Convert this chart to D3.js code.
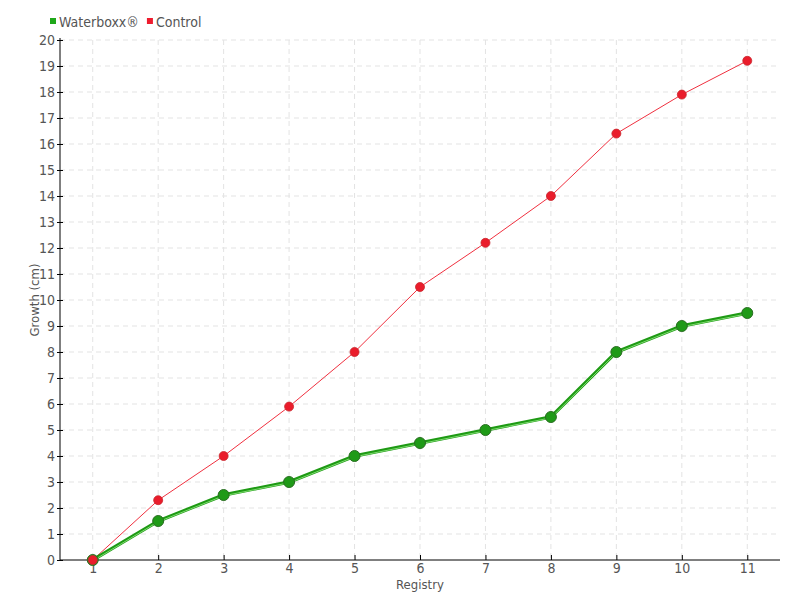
<!DOCTYPE html>
<html>
<head>
<meta charset="utf-8">
<script src="https://cdn.jsdelivr.net/npm/d3@7"></script>
<style>
  body { margin: 0; background: #fff; }
  text { font-family: "DejaVu Sans Condensed", "DejaVu Sans", sans-serif; font-stretch: condensed; fill: #555; }
  .grid line { stroke: #e3e3e3; stroke-dasharray: 5,4; }
  .axis path, .axis line { stroke: #000; }
</style>
</head>
<body>
<div class="chart"></div>
<script>
const registry = [1, 2, 3, 4, 5, 6, 7, 8, 9, 10, 11];
const waterboxx = [0, 1.5, 2.5, 3, 4, 4.5, 5, 5.5, 8, 9, 9.5];
const control = [0, 2.3, 4, 5.9, 8, 10.5, 12.2, 14, 16.4, 17.9, 19.2];
const yTicks = d3.range(0, 21);

const w = 800, h = 600;
const padL = 60, padR = 780, padT = 40, padB = 560;

var svg = d3.select(".chart").append("svg")
    .attr("width", w)
    .attr("height", h);

var xScale = d3.scalePoint().domain(registry).range([padL, padR]).padding(0.5);
var yScale = d3.scaleLinear().domain([0, 20]).range([padB, padT]);

// grid
svg.append("g").attr("class", "grid")
   .selectAll("line").data(yTicks.slice(1)).enter().append("line")
   .attr("x1", padL).attr("x2", padR)
   .attr("y1", d => yScale(d)).attr("y2", d => yScale(d));
svg.append("g").attr("class", "grid")
   .selectAll("line").data(registry).enter().append("line")
   .attr("x1", d => xScale(d)).attr("x2", d => xScale(d))
   .attr("y1", padT).attr("y2", padB);

// axes
var xAxis = d3.axisBottom(xScale).tickSizeOuter(0).tickSize(5);
var gx = svg.append("g").attr("class", "axis")
    .attr("transform", "translate(0," + padB + ")")
    .call(xAxis);
gx.selectAll(".tick line").attr("y1", -5).attr("y2", 0);
gx.selectAll("text").attr("y", 3).style("font-size", "14px");
gx.select(".domain").remove();
gx.append("line").attr("x1", padL).attr("x2", padR).attr("y1", 0).attr("y2", 0).attr("stroke", "#000");

var yAxis = d3.axisLeft(yScale).tickValues(yTicks).tickFormat(d3.format("d")).tickSizeOuter(0).tickSize(5);
var gy = svg.append("g").attr("class", "axis")
    .attr("transform", "translate(" + padL + ",0)")
    .call(yAxis);
gy.selectAll(".tick line").attr("x1", -3).attr("x2", 3);
gy.selectAll("text").attr("x", -5).style("font-size", "14px");
gy.select(".domain").remove();
gy.append("line").attr("x1", 0).attr("x2", 0).attr("y1", padT - 2).attr("y2", padB).attr("stroke", "#000");

// axis titles
svg.append("text").attr("x", (padL + padR) / 2).attr("y", 589)
   .attr("text-anchor", "middle").style("font-size", "13px").text("Registry");
svg.append("text").attr("transform", "translate(39," + ((padT + padB) / 2) + ") rotate(-90)")
   .attr("text-anchor", "middle").style("font-size", "13px").text("Growth (cm)");

var line = d3.line().x((d, i) => xScale(registry[i])).y(d => yScale(d));

// control series
svg.append("path").datum(control).attr("d", line)
   .attr("fill", "none").attr("stroke", "#f0303f").attr("stroke-width", 1);

// waterboxx series (double stroke look)
svg.append("path").datum(waterboxx).attr("d", line)
   .attr("fill", "none").attr("stroke", "#1e9a14").attr("stroke-width", 3.5);
svg.append("path").datum(waterboxx).attr("d", line)
   .attr("transform", "translate(0,0.8)")
   .attr("fill", "none").attr("stroke", "#7fdc70").attr("stroke-width", 1);

svg.selectAll(".wdot").data(waterboxx).enter().append("circle")
   .attr("class", "wdot")
   .attr("cx", (d, i) => xScale(registry[i])).attr("cy", d => yScale(d))
   .attr("r", 5.5).attr("fill", "#1f9a17").attr("stroke", "#2a6e22").attr("stroke-width", 1);

svg.selectAll(".cdot").data(control).enter().append("circle")
   .attr("class", "cdot")
   .attr("cx", (d, i) => xScale(registry[i])).attr("cy", d => yScale(d))
   .attr("r", 4.5).attr("fill", "#ea1c2b").attr("stroke", "#c8282e").attr("stroke-width", 0.8);

// legend
var legend = [{name: "Waterboxx®", color: "#1fa81a"}, {name: "Control", color: "#ee1c2e"}];
var lx = 50;
legend.forEach(function (d) {
  var g = svg.append("g").attr("class", "legend").attr("transform", "translate(" + lx + ",22)");
  g.append("rect").attr("x", 0).attr("y", -4).attr("width", 6).attr("height", 6).attr("fill", d.color);
  var t = g.append("text").attr("x", 9).attr("y", 5).style("font-size", "14px").text(d.name);
  lx += 9 + t.node().getComputedTextLength() + 8;
});
</script>
</body>
</html>
